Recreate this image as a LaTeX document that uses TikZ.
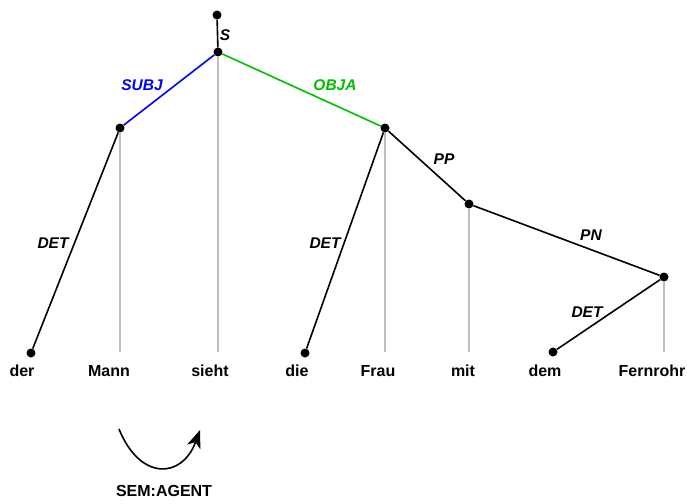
\documentclass[tikz,border=0pt]{standalone}
\usepackage{fontspec}
\setmainfont{Liberation Sans}
\usepackage{tikz}
\usetikzlibrary{arrows.meta}

\begin{document}
\begin{tikzpicture}[x=1pt,y=-1pt]
\tikzstyle{dot} = [circle, fill=black, inner sep=0pt, minimum size=9pt]
\tikzstyle{word} = [font=\bfseries\fontsize{16}{18}\selectfont, inner sep=1pt]
\tikzstyle{lab} = [font=\bfseries\itshape\fontsize{15.5}{18}\selectfont, inner sep=1pt]
\tikzstyle{edge} = [line width=1.6pt]
\tikzstyle{proj} = [line width=1.3pt, black!25]
\tikzstyle{arrow} = [line width=1.6pt,-{Stealth[length=18pt,width=14pt,inset=5pt]}]

\useasboundingbox (0,0) rectangle (687,503);

% words
\node (wder) [word] at (22,371) {der};
\node (wmann) [word] at (109,371) {Mann};
\node (wsieht) [word] at (210,371) {sieht};
\node (wdie) [word] at (297,371) {die};
\node (wfrau) [word] at (378,371) {Frau};
\node (wmit) [word] at (463,371) {mit};
\node (wdem) [word] at (545,371) {dem};
\node (wfern) [word] at (652,371) {Fernrohr};

% tree nodes
\node (top) [dot] at (217,15) {};
\node (sieht) [dot] at (218,52) {};
\node (mann) [dot] at (120,128) {};
\node (frau) [dot] at (385,128) {};
\node (mit) [dot] at (469,204) {};
\node (fern) [dot] at (664,277) {};
\node (der) [dot] at (31,353) {};
\node (die) [dot] at (305,353) {};
\node (dem) [dot] at (553,352) {};

% projection lines
\coordinate (pmann) at (120,352);
\coordinate (psieht) at (218,352);
\coordinate (pfrau) at (385,352);
\coordinate (pmit) at (469,352);
\coordinate (pfern) at (664,352);
\draw [proj] (mann) -- (pmann);
\draw [proj] (sieht) -- (psieht);
\draw [proj] (frau) -- (pfrau);
\draw [proj] (mit) -- (pmit);
\draw [proj] (fern) -- (pfern);

% dependency edges
\draw [edge] (top) -- (sieht);
\draw [edge, blue] (sieht) -- (mann);
\draw [edge, green!75!black] (sieht) -- (frau);
\draw [edge] (mann) -- (der);
\draw [edge] (frau) -- (die);
\draw [edge] (frau) -- (mit);
\draw [edge] (mit) -- (fern);
\draw [edge] (fern) -- (dem);

% edge labels
\node (ls) [lab] at (225,35) {S};
\node (lsubj) [lab, blue] at (142,85) {SUBJ};
\node (lobja) [lab, green!75!black] at (335,85) {OBJA};
\node (ldet1) [lab] at (53,243) {DET};
\node (ldet2) [lab] at (325,243) {DET};
\node (lpp) [lab] at (444,159) {PP};
\node (lpn) [lab] at (591,235) {PN};
\node (ldet3) [lab] at (587,312) {DET};

% semantic arc
\coordinate (a1) at (119,429);
\coordinate (a2) at (200,430);
\draw [arrow] (a1) .. controls (140,481) and (182,479) .. (a2);
\node (sem) [word] at (164,491) {SEM:AGENT};

\end{tikzpicture}
\end{document}
